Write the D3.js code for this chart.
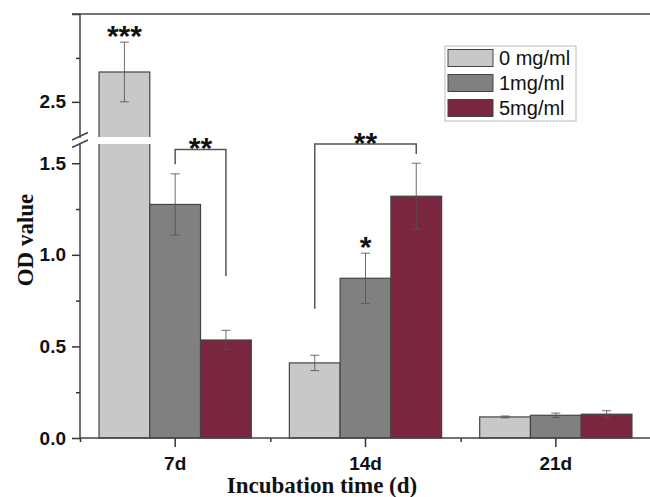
<!DOCTYPE html>
<html lang="en">
<head>
<meta charset="utf-8">
<title>OD value by incubation time</title>
<script src="https://cdn.jsdelivr.net/npm/d3@7"></script>
<style>
  body { margin: 0; background: #fff; }
  svg { display: block; }
  .tick text { font-family: "Liberation Sans", Arial, sans-serif; font-weight: bold; font-size: 19px; fill: #111; }
  .tick line { stroke: #333; stroke-width: 1.5; }
</style>
</head>
<body>
<div id="chart"></div>
<script>
// data
var categories = ["7d", "14d", "21d"];
var series = ["0 mg/ml", "1mg/ml", "5mg/ml"];
var colors = ["#c8c8c8", "#808080", "#7a263e"];
var values = {
  "0 mg/ml": [2.67, 0.41, 0.115],
  "1mg/ml":  [1.275, 0.872, 0.124],
  "5mg/ml":  [0.535, 1.32, 0.13]
};
var errors = {
  "0 mg/ml": [0.17, 0.042, 0.005],
  "1mg/ml":  [0.167, 0.137, 0.012],
  "5mg/ml":  [0.053, 0.18, 0.019]
};
var lowTicks = [0, 0.5, 1.0, 1.5];
var lowMinor = [0.25, 0.75, 1.25];
var highTicks = [2.5, 3.0];
var highMinor = [2.75];
var starLabels = [
  {cat: "7d", s: "0 mg/ml", text: "***"},
  {cat: "14d", s: "1mg/ml", text: "*"}
];
var brackets = [
  {cat: "7d", from: "1mg/ml", to: "5mg/ml", top: 1.575, leftEnd: 1.495, rightEnd: 0.885, text: "**"},
  {cat: "14d", from: "0 mg/ml", to: "5mg/ml", top: 1.605, leftEnd: 0.705, rightEnd: 1.55, text: "**"}
];

var w = 650, h = 497;
var mLeft = 80, mBottom = 438, mTop = 14;
var breakLo = 144, breakHi = 137;

var svg = d3.select("#chart").append("svg")
  .attr("width", w).attr("height", h);

var x0 = d3.scaleBand().domain(categories).range([mLeft, 651])
  .paddingInner(0.2).paddingOuter(0.1);
var x1 = d3.scaleBand().domain(series).range([0, x0.bandwidth()]);
var yLo = d3.scaleLinear().domain([0, 1.605]).range([mBottom, breakLo]);
var yHi = d3.scaleLinear().domain([2.3, 3.0]).range([breakHi, mTop]);
function y(v) { return v > 1.605 ? yHi(v) : yLo(v); }

// bars
var rows = [];
categories.forEach(function(c, i) {
  series.forEach(function(s, j) {
    rows.push({cat: c, s: s, v: values[s][i], e: errors[s][i], color: colors[j]});
  });
});

var g = svg.append("g");
g.selectAll("rect.bar").data(rows).enter().append("rect")
  .attr("class", "bar")
  .attr("x", function(d) { return x0(d.cat) + x1(d.s); })
  .attr("y", function(d) { return y(d.v); })
  .attr("width", x1.bandwidth())
  .attr("height", function(d) { return mBottom - y(d.v); })
  .attr("fill", function(d) { return d.color; })
  .attr("stroke", "#444")
  .attr("stroke-width", 1.2);

// white gap where bars cross the break
g.selectAll("rect.gap").data(rows.filter(function(d) { return d.v > 1.605; }))
  .enter().append("rect")
  .attr("x", function(d) { return x0(d.cat) + x1(d.s) - 2; })
  .attr("y", breakHi)
  .attr("width", x1.bandwidth() + 4)
  .attr("height", breakLo - breakHi)
  .attr("fill", "#fff");

// error bars
var eb = g.selectAll("g.err").data(rows).enter().append("g")
  .attr("class", "err")
  .attr("stroke", "#555").attr("stroke-width", 1).attr("stroke-opacity", 0.85);
function cx(d) { return x0(d.cat) + x1(d.s) + x1.bandwidth() / 2; }
eb.append("line")
  .attr("x1", cx).attr("x2", cx)
  .attr("y1", function(d) { return y(d.v + d.e); })
  .attr("y2", function(d) { return y(d.v - d.e); });
[1, -1].forEach(function(sign) {
  eb.append("line")
    .attr("x1", function(d) { return cx(d) - 4.5; })
    .attr("x2", function(d) { return cx(d) + 4.5; })
    .attr("y1", function(d) { return y(d.v + sign * d.e); })
    .attr("y2", function(d) { return y(d.v + sign * d.e); });
});

// axes
svg.append("g").attr("transform", "translate(" + mLeft + ",0)")
  .call(d3.axisLeft(yLo).tickValues(lowTicks).tickFormat(d3.format(".1f")).tickSize(8).tickPadding(6));
svg.append("g").attr("transform", "translate(" + mLeft + ",0)")
  .call(d3.axisLeft(yLo).tickValues(lowMinor).tickFormat("").tickSize(4));
svg.append("g").attr("transform", "translate(" + mLeft + ",0)")
  .call(d3.axisLeft(yHi).tickValues(highTicks)
    .tickFormat(function(d) { return d === 3 ? "" : d3.format(".1f")(d); })
    .tickSize(8).tickPadding(6));
svg.append("g").attr("transform", "translate(" + mLeft + ",0)")
  .call(d3.axisLeft(yHi).tickValues(highMinor).tickFormat("").tickSize(4));

svg.append("g").attr("transform", "translate(0," + mBottom + ")")
  .call(d3.axisBottom(x0).tickSize(9).tickPadding(10));
var minorX = [mLeft];
for (var i = 0; i < categories.length - 1; i++) {
  minorX.push((x0(categories[i]) + x0(categories[i + 1]) + x0.bandwidth()) / 2);
}
svg.append("g").attr("transform", "translate(0," + mBottom + ")")
  .call(d3.axisBottom(d3.scaleIdentity()).tickValues(minorX).tickFormat("").tickSize(4));
svg.selectAll(".domain").remove();

var frame = svg.append("g").attr("stroke", "#444").attr("stroke-width", 1.5).attr("fill", "none");
frame.append("line").attr("x1", mLeft).attr("x2", mLeft).attr("y1", mTop).attr("y2", breakHi + 1);
frame.append("line").attr("x1", mLeft).attr("x2", mLeft).attr("y1", breakLo - 1).attr("y2", mBottom);
frame.append("line").attr("x1", mLeft - 8).attr("x2", w).attr("y1", mTop).attr("y2", mTop);
frame.append("line").attr("x1", mLeft).attr("x2", w).attr("y1", mBottom).attr("y2", mBottom);
// break marks
[breakHi + 3, breakLo + 3.5].forEach(function(yy) {
  frame.append("line").attr("x1", mLeft - 8).attr("x2", mLeft + 8)
    .attr("y1", yy).attr("y2", yy - 7.5);
});

// significance marks
svg.selectAll("text.star").data(starLabels).enter().append("text")
  .attr("class", "star")
  .attr("x", function(d) { return x0(d.cat) + x1(d.s) + x1.bandwidth() / 2; })
  .attr("y", function(d) {
    var i = categories.indexOf(d.cat);
    return y(values[d.s][i] + errors[d.s][i]) - 12 + 16;
  })
  .attr("text-anchor", "middle")
  .style("font-family", "'Liberation Sans', Arial, sans-serif")
  .style("font-weight", "bold").style("font-size", "30px").attr("fill", "#111")
  .text(function(d) { return d.text; });

var br = svg.selectAll("g.bracket").data(brackets).enter().append("g").attr("class", "bracket");
function bx(d, s) { return x0(d.cat) + x1(s) + x1.bandwidth() / 2; }
br.append("path")
  .attr("fill", "none").attr("stroke", "#555").attr("stroke-width", 1.5)
  .attr("d", function(d) {
    return "M" + bx(d, d.from) + "," + yLo(d.leftEnd) +
      "V" + yLo(d.top) + "H" + bx(d, d.to) + "V" + yLo(d.rightEnd);
  });
br.append("text")
  .attr("x", function(d) { return (bx(d, d.from) + bx(d, d.to)) / 2; })
  .attr("y", function(d) { return yLo(d.top) - 8 + 17; })
  .attr("text-anchor", "middle")
  .style("font-family", "'Liberation Sans', Arial, sans-serif")
  .style("font-weight", "bold").style("font-size", "30px").attr("fill", "#111")
  .text(function(d) { return d.text; });

// legend
var lg = svg.append("g").attr("transform", "translate(445,46)");
lg.append("rect").attr("width", 131).attr("height", 75)
  .attr("fill", "#fff").attr("stroke", "#bbb").attr("stroke-width", 1);
var item = lg.selectAll("g.item").data(series).enter().append("g")
  .attr("class", "item")
  .attr("transform", function(d, i) { return "translate(3," + (3.5 + i * 25) + ")"; });
item.append("rect").attr("width", 45).attr("height", 17)
  .attr("fill", function(d, i) { return colors[i]; })
  .attr("stroke", "#444").attr("stroke-width", 1);
item.append("text").attr("x", 51).attr("y", 15.5)
  .style("font-family", "'Liberation Sans', Arial, sans-serif")
  .style("font-size", "20px").attr("fill", "#111")
  .text(function(d) { return d; });

// axis titles
svg.append("text")
  .attr("transform", "translate(33,240) rotate(-90)")
  .attr("text-anchor", "middle")
  .style("font-family", "'Liberation Serif', 'Times New Roman', serif")
  .style("font-weight", "bold").style("font-size", "23px").attr("fill", "#111")
  .text("OD value");
svg.append("text")
  .attr("x", 322).attr("y", 493)
  .attr("text-anchor", "middle")
  .style("font-family", "'Liberation Serif', 'Times New Roman', serif")
  .style("font-weight", "bold").style("font-size", "23px").attr("fill", "#111")
  .text("Incubation time (d)");
</script>
</body>
</html>
